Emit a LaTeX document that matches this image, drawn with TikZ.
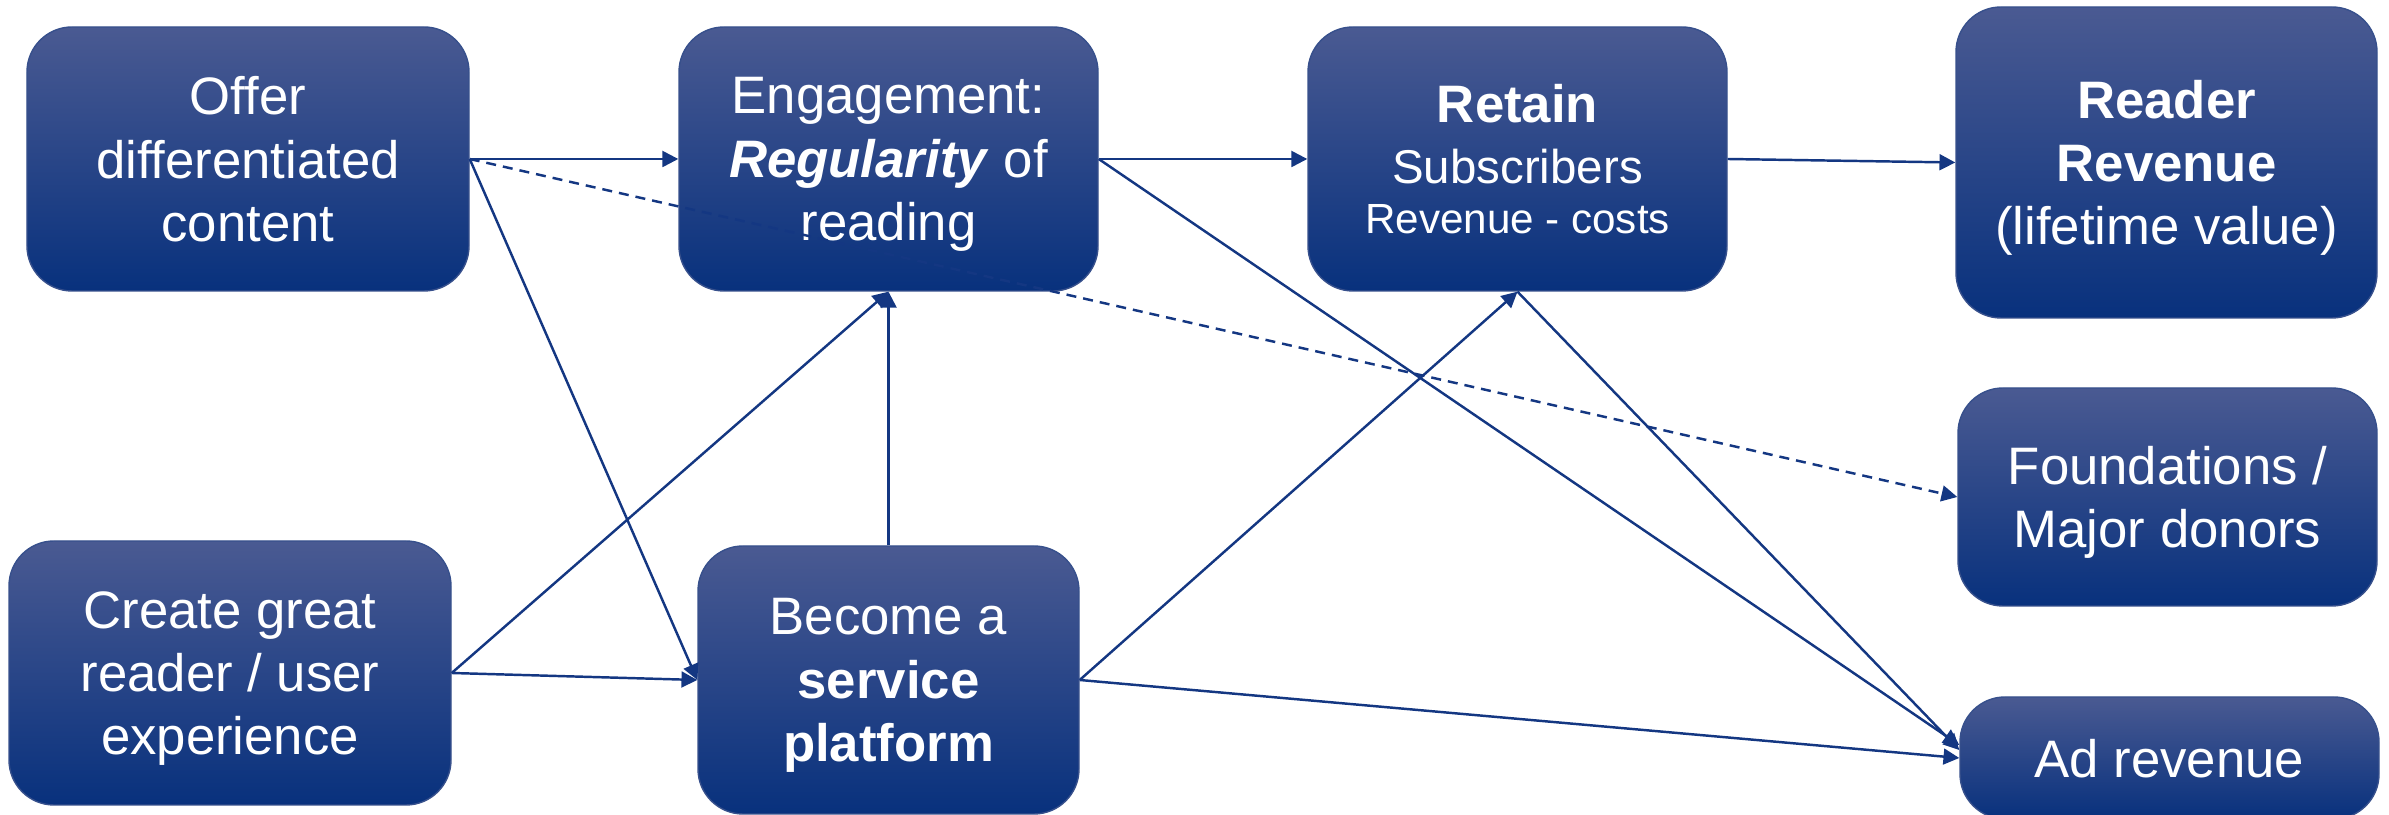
\documentclass[tikz,border=0pt]{standalone}
\usepackage{fontspec}
\setmainfont{Liberation Sans}
\usepackage{tikz}
\usetikzlibrary{arrows.meta}
\definecolor{boxtop}{RGB}{74,90,146}
\definecolor{boxmid}{RGB}{14,56,133}
\definecolor{boxbot}{RGB}{8,49,125}
\definecolor{boxline}{RGB}{55,80,140}
\definecolor{linkblue}{RGB}{20,55,130}

\begin{document}
\begin{tikzpicture}
\tikzstyle{block}=[rectangle, rounded corners=0.45cm, draw=boxline, line width=0.4pt, top color=boxtop, middle color=boxmid, bottom color=boxbot, text=white, align=center, inner sep=0pt, text depth=0pt, font=\fontsize{15}{18}\selectfont]
\tikzstyle{every edge}=[draw=linkblue, line width=0.7pt, -{Triangle[length=4.5pt, width=4.5pt]}]
\useasboundingbox (0,0) rectangle (23.89,-8.15);
\node[block, minimum width=4.42cm, minimum height=2.64cm] (Offer) at (2.48,-1.59) {Offer\\differentiated\\content};
\node[block, minimum width=4.19cm, minimum height=2.64cm] (Eng) at (8.885,-1.59) {Engagement:\\\textbf{\textit{Regularity}} of\\reading};
\node[block, minimum width=4.19cm, minimum height=2.64cm] (Retain) at (15.175,-1.59) {\textbf{Retain}\\[-0.5pt]{\fontsize{13.5}{16}\selectfont Subscribers}\\[-3.7pt]{\fontsize{12}{14}\selectfont Revenue - costs}};
\node[block, minimum width=4.21cm, minimum height=3.11cm] (Reader) at (21.665,-1.625) {\textbf{Reader}\\\textbf{Revenue}\\(lifetime value)};
\node[block, minimum width=4.19cm, minimum height=2.18cm] (Found) at (21.675,-4.97) {Foundations /\\Major donors};
\node[block, minimum width=4.19cm, minimum height=1.22cm] (Ad) at (21.695,-7.58) {Ad revenue};
\node[block, minimum width=4.42cm, minimum height=2.64cm] (Create) at (2.30,-6.73) {Create great\\reader / user\\experience};
\node[block, minimum width=3.81cm, minimum height=2.68cm] (Become) at (8.885,-6.80) {Become a\\\textbf{service}\\\textbf{platform}};
\path (Offer.east) edge (Eng.west)
                   edge (Become.west)
                   edge[dashed, dash pattern=on 0.1cm off 0.07cm] (Found.west)
      (Eng.east)   edge (Retain.west)
                   edge ([yshift=1.3mm]Ad.west)
      (Retain.east) edge (Reader.west)
      (Retain.south) edge ([yshift=0.8mm]Ad.west)
      (Become.north) edge (Eng.south)
      (Become.east) edge (Retain.south)
                    edge (Ad.west)
      (Create.east) edge (Eng.south)
                    edge (Become.west);

\end{tikzpicture}
\end{document}
